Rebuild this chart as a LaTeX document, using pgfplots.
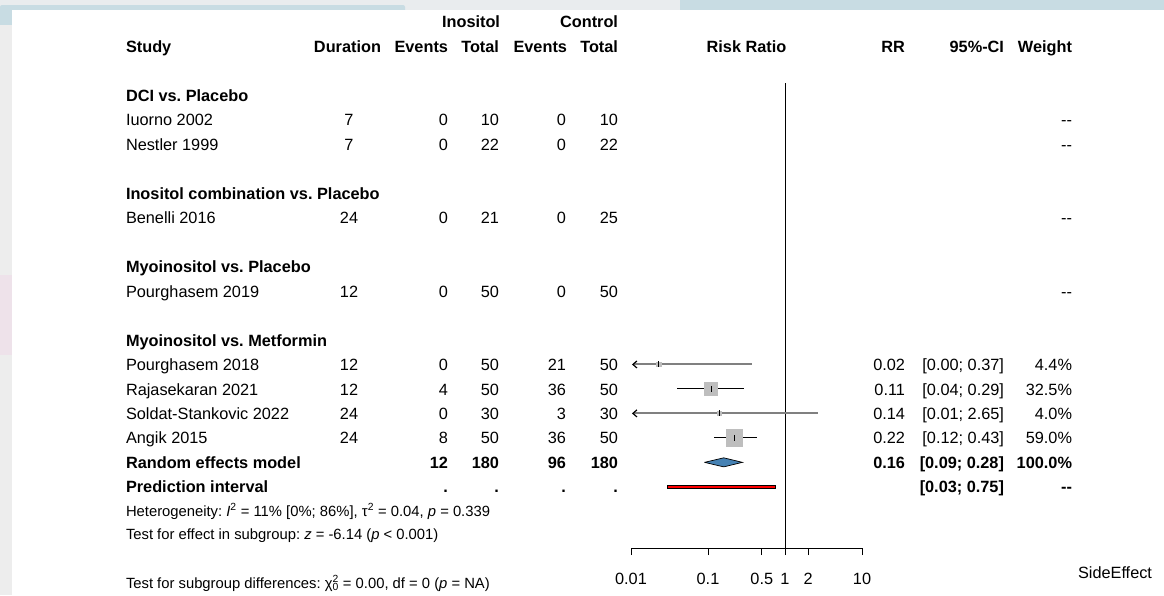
\documentclass[border=0pt]{standalone}
\usepackage{pgfplots}
\pgfplotsset{compat=1.18}
\usetikzlibrary{arrows.meta}
\usepackage{fontspec}
\setmainfont{Liberation Sans}
\frenchspacing
\definecolor{sqgray}{HTML}{BEBEBE}
\definecolor{diamblue}{HTML}{4682B4}
\definecolor{cigray}{HTML}{808080}
\definecolor{pinkbg}{HTML}{EEE2EA}
\definecolor{bluebg}{HTML}{C8DCE3}
\definecolor{topgray}{HTML}{E9ECEE}
\definecolor{leftgray}{HTML}{EDEDED}
\newcommand{\bodyfont}{\fontsize{16.3}{18}\selectfont}
\newcommand{\smallfont}{\fontsize{14.8}{16}\selectfont}
\newcommand{\dd}{-\kern0pt-}

\begin{document}
\begin{tikzpicture}
\begin{scope}[x=1pt,y=-1pt,every node/.style={inner sep=0pt, outer sep=0pt}]
\path[use as bounding box] (0,0) rectangle (1164,595);
% screenshot background remnants
\fill[leftgray] (0,0) rectangle (12,595);
\fill[pinkbg] (0,275) rectangle (12,355);
\fill[topgray] (0,0) rectangle (1164,10);
\fill[bluebg, rounded corners=2pt] (0,5) rectangle (405,14);
\fill[bluebg] (680,0) rectangle (1164,10);
\fill[bluebg] (0,10) rectangle (12,25);
\fill[white] (12,10) rectangle (1164,595);

% header
\node[anchor=base east,font=\bodyfont\bfseries] at (500,27.9) {Inositol};
\node[anchor=base east,font=\bodyfont\bfseries] at (618,27.9) {Control};
\node[anchor=base west,font=\bodyfont\bfseries] at (126,52.4) {Study};
\node[anchor=base east,font=\bodyfont\bfseries] at (381,52.4) {Duration};
\node[anchor=base east,font=\bodyfont\bfseries] at (448,52.4) {Events};
\node[anchor=base east,font=\bodyfont\bfseries] at (499,52.4) {Total};
\node[anchor=base east,font=\bodyfont\bfseries] at (567,52.4) {Events};
\node[anchor=base east,font=\bodyfont\bfseries] at (618,52.4) {Total};
\node[anchor=base,font=\bodyfont\bfseries] at (746.5,52.4) {Risk Ratio};
\node[anchor=base east,font=\bodyfont\bfseries] at (905,52.4) {RR};
\node[anchor=base east,font=\bodyfont\bfseries] at (1004,52.4) {95\%-CI};
\node[anchor=base east,font=\bodyfont\bfseries] at (1072,52.4) {Weight};

% subgroup headings
\node[anchor=base west,font=\bodyfont\bfseries] at (126,101.3) {DCI vs. Placebo};
\node[anchor=base west,font=\bodyfont\bfseries] at (126,199.2) {Inositol combination vs. Placebo};
\node[anchor=base west,font=\bodyfont\bfseries] at (126,272.6) {Myoinositol vs. Placebo};
\node[anchor=base west,font=\bodyfont\bfseries] at (126,346.0) {Myoinositol vs. Metformin};

% study rows: name, duration, ev.e, n.e, ev.c, n.c
\foreach \yb/\name/\dur/\ee/\ne/\ec/\nc in {
  125.8/Iuorno 2002/7/0/10/0/10,
  150.3/Nestler 1999/7/0/22/0/22,
  223.7/Benelli 2016/24/0/21/0/25,
  297.1/Pourghasem 2019/12/0/50/0/50,
  370.5/Pourghasem 2018/12/0/50/21/50,
  395.0/Rajasekaran 2021/12/4/50/36/50,
  419.4/Soldat-Stankovic 2022/24/0/30/3/30,
  443.9/Angik 2015/24/8/50/36/50}{
  \node[anchor=base west,font=\bodyfont] at (126,\yb) {\name};
  \node[anchor=base,font=\bodyfont] at (349,\yb) {\dur};
  \node[anchor=base east,font=\bodyfont] at (448,\yb) {\ee};
  \node[anchor=base east,font=\bodyfont] at (499,\yb) {\ne};
  \node[anchor=base east,font=\bodyfont] at (566,\yb) {\ec};
  \node[anchor=base east,font=\bodyfont] at (618,\yb) {\nc};
}
% weights "--" for non-estimable studies
\foreach \yb in {125.8,150.3,223.7,297.1}{
  \node[anchor=base east,font=\bodyfont] at (1072,\yb) {\dd};
}
% estimates
\foreach \yb/\rr/\ci/\w in {
  370.5/0.02/{[0.00; 0.37]}/4.4\%,
  395.0/0.11/{[0.04; 0.29]}/32.5\%,
  419.4/0.14/{[0.01; 2.65]}/4.0\%,
  443.9/0.22/{[0.12; 0.43]}/59.0\%}{
  \node[anchor=base east,font=\bodyfont] at (905,\yb) {\rr};
  \node[anchor=base east,font=\bodyfont] at (1004,\yb) {\ci};
  \node[anchor=base east,font=\bodyfont] at (1072,\yb) {\w};
}
% random effects model
\node[anchor=base west,font=\bodyfont\bfseries] at (126,468.4) {Random effects model};
\node[anchor=base east,font=\bodyfont\bfseries] at (448,468.4) {12};
\node[anchor=base east,font=\bodyfont\bfseries] at (499,468.4) {180};
\node[anchor=base east,font=\bodyfont\bfseries] at (566,468.4) {96};
\node[anchor=base east,font=\bodyfont\bfseries] at (618,468.4) {180};
\node[anchor=base east,font=\bodyfont\bfseries] at (905,468.4) {0.16};
\node[anchor=base east,font=\bodyfont\bfseries] at (1004,468.4) {[0.09; 0.28]};
\node[anchor=base east,font=\bodyfont\bfseries] at (1072,468.4) {100.0\%};
% prediction interval
\node[anchor=base west,font=\bodyfont\bfseries] at (126,492.9) {Prediction interval};
\node[anchor=base east,font=\bodyfont\bfseries] at (448,492.9) {.};
\node[anchor=base east,font=\bodyfont\bfseries] at (499,492.9) {.};
\node[anchor=base east,font=\bodyfont\bfseries] at (566,492.9) {.};
\node[anchor=base east,font=\bodyfont\bfseries] at (618,492.9) {.};
\node[anchor=base east,font=\bodyfont\bfseries] at (1004,492.9) {[0.03; 0.75]};
\node[anchor=base east,font=\bodyfont\bfseries] at (1072,492.9) {\dd};

% statistics
\node[anchor=base west,font=\smallfont] at (126,516.2) {Heterogeneity: \textit{I}\textsuperscript{2} = 11\% [0\%; 86\%], τ\textsuperscript{2} = 0.04, \textit{p} = 0.339};
\node[anchor=base west,font=\smallfont] at (126,539.2) {Test for effect in subgroup: \textit{z} = -6.14 (\textit{p} < 0.001)};
\node[anchor=base west,font=\smallfont] at (126,588.2) {Test for subgroup differences: χ\rlap{\textsuperscript{2}}\textsubscript{0} = 0.00, df = 0 (\textit{p} = NA)};
\node[anchor=base east,font=\bodyfont] at (1152,578.8) {SideEffect};
\end{scope}

\begin{axis}[
  at={(631pt,-548pt)}, anchor=south west,
  scale only axis, width=231pt, height=465pt,
  xmode=log, log basis x=10,
  xmin=0.01, xmax=10, ymin=-1.5, ymax=17.5,
  axis x line=bottom, axis y line=none,
  axis line style={-, line width=0.8pt},
  xtick={0.01,0.1,0.5,1,2,10},
  xticklabels={0.01,0.1,0.5,1,2,10},
  tick align=outside, major tick length=7pt,
  xtick style={black, line width=0.8pt},
  minor xtick={},
  xticklabel style={font=\bodyfont, yshift=-15pt},
  /pgf/number format/assume math mode=true,
  clip=false,
]
% reference line at RR = 1
\addplot[black, line width=0.8pt] coordinates {(1,-1.5) (1,17.5)};
% confidence intervals
\addplot[cigray, line width=2pt, {Straight Barb[black, length=4pt, width=7pt, line width=1.2pt]}-] coordinates {(0.0103,6) (0.37,6)};
\addplot[black, line width=0.9pt] coordinates {(0.04,5) (0.29,5)};
\addplot[cigray, line width=2pt, {Straight Barb[black, length=4pt, width=7pt, line width=1.2pt]}-] coordinates {(0.0103,4) (2.65,4)};
\addplot[black, line width=0.9pt] coordinates {(0.12,3) (0.43,3)};
% weight squares
\addplot[only marks, mark=square*, mark size=2.3pt, mark options={draw=sqgray, fill=sqgray, line width=0pt}] coordinates {(0.023,6)};
\addplot[only marks, mark=square*, mark size=6.3pt, mark options={draw=sqgray, fill=sqgray, line width=0pt}] coordinates {(0.11,5)};
\addplot[only marks, mark=square*, mark size=2.2pt, mark options={draw=sqgray, fill=sqgray, line width=0pt}] coordinates {(0.14,4)};
\addplot[only marks, mark=square*, mark size=8.3pt, mark options={draw=sqgray, fill=sqgray, line width=0pt}] coordinates {(0.22,3)};
% point estimates
\addplot[only marks, mark=|, mark size=3pt, mark options={black, line width=1pt}] coordinates {(0.023,6) (0.11,5) (0.14,4) (0.22,3)};
% random effects diamond
\addplot[draw=black, fill=diamblue, line width=0.7pt] coordinates {(0.09,2) (0.16,2.185) (0.28,2) (0.16,1.815) (0.09,2)};
% prediction interval
\addplot[draw=black, fill=red, line width=0.7pt] coordinates {(0.03,0.93) (0.75,0.93) (0.75,1.07) (0.03,1.07) (0.03,0.93)};
\end{axis}
\end{tikzpicture}
\end{document}
